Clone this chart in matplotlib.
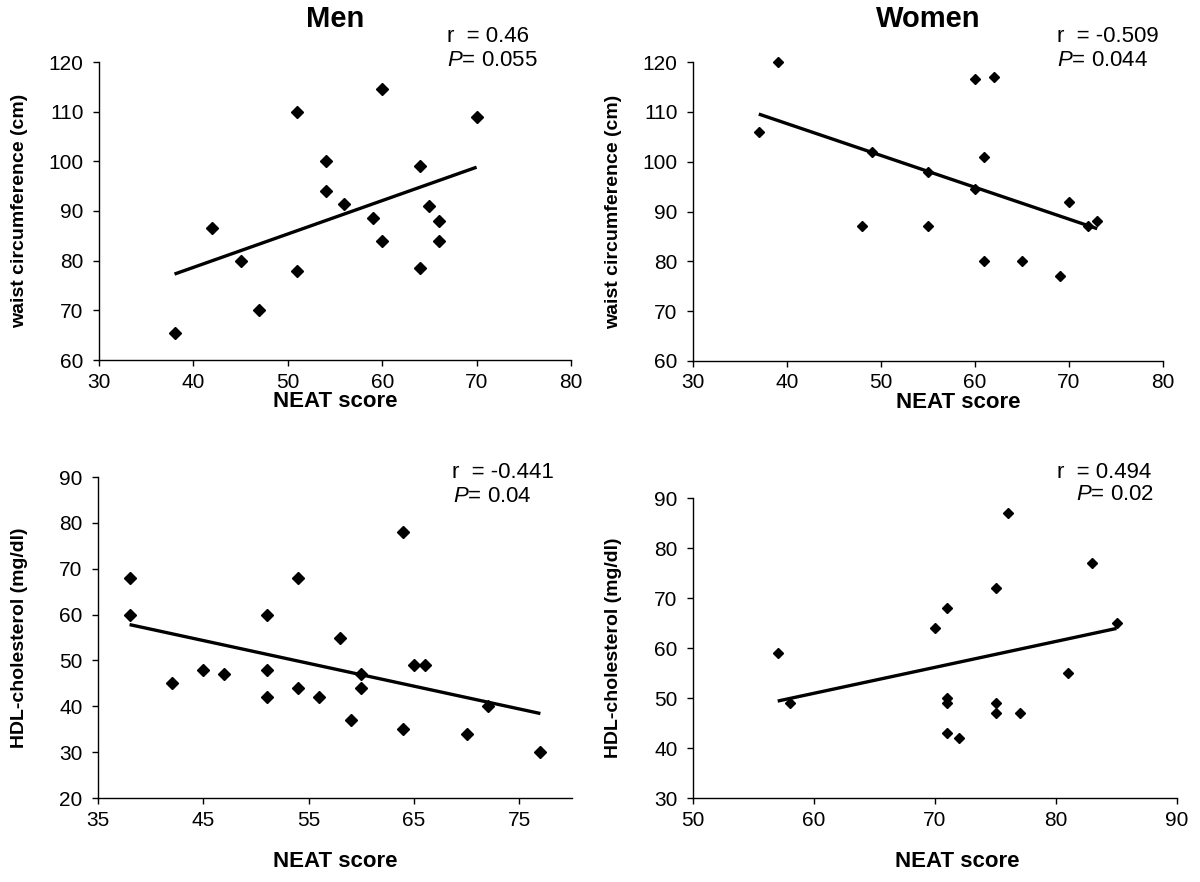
import matplotlib
matplotlib.use("Agg")
import matplotlib.pyplot as plt
import numpy as np

plt.rcParams['font.family'] = ['Liberation Sans', 'DejaVu Sans']
plt.rcParams['mathtext.fontset'] = 'custom'
plt.rcParams['mathtext.rm'] = 'Liberation Sans'
plt.rcParams['mathtext.it'] = 'Liberation Sans:italic'

# men, waist circumference
men_waist_x = [38, 42, 45, 47, 51, 51, 54, 54, 56, 59, 60, 60, 64, 64, 65, 66, 66, 70]
men_waist_y = [65.5, 86.5, 80, 70, 110, 78, 100, 94, 91.5, 88.5, 114.5, 84, 99, 78.5, 91, 88, 84, 109]

# women, waist circumference
women_waist_x = [39, 37, 49, 48, 55, 55, 60, 62, 61, 60, 61, 65, 69, 70, 72, 73]
women_waist_y = [120, 106, 102, 87, 98, 87, 116.5, 117, 101, 94.5, 80, 80, 77, 92, 87, 88]

# men, HDL
men_hdl_x = [38, 38, 42, 45, 47, 51, 51, 51, 54, 54, 56, 58, 59, 60, 60, 64, 64, 65, 66, 70, 72, 77]
men_hdl_y = [68, 60, 45, 48, 47, 60, 48, 42, 68, 44, 42, 55, 37, 47, 44, 78, 35, 49, 49, 34, 40, 30]

# women, HDL
women_hdl_x = [57, 58, 70, 71, 71, 71, 71, 72, 75, 75, 75, 76, 77, 81, 83, 85]
women_hdl_y = [59, 49, 64, 68, 50, 49, 43, 42, 72, 49, 47, 87, 47, 55, 77, 65]

W, H = 1200, 882
fig = plt.figure(figsize=(12, 8.82), dpi=100)


def px_axes(left, right, top, bottom):
    return fig.add_axes([left / W, 1 - bottom / H, (right - left) / W, (bottom - top) / H])


def style(ax, xlim, xticks, ylim, yticks, ylabel, ylab_x, xlab_x, xlab_y, ms, xs, ys):
    ax.plot(xs, ys, linestyle='none', marker='D', color='black', markersize=ms, clip_on=False)
    k, b = np.polyfit(xs, ys, 1)
    lx = np.array([min(xs), max(xs)])
    ax.plot(lx, k * lx + b, color='black', lw=2.4, solid_capstyle='butt')
    ax.set_xlim(xlim)
    ax.set_ylim(ylim)
    ax.set_xticks(xticks)
    ax.set_yticks(yticks)
    for s in ['top', 'right']:
        ax.spines[s].set_visible(False)
    for s in ['left', 'bottom']:
        ax.spines[s].set_linewidth(1.0)
    ax.tick_params(direction='out', length=4, width=1.0, labelsize=15)
    ax.tick_params(axis='x', pad=5)
    ax.tick_params(axis='y', pad=7)
    ax.set_ylabel(ylabel, fontsize=14, fontweight='bold')
    ax.yaxis.set_label_coords(ylab_x, 0.5)
    ax.set_xlabel('NEAT score', fontsize=16, fontweight='bold')
    ax.xaxis.set_label_coords(xlab_x, xlab_y)


ax1 = px_axes(99, 571, 62, 360)
style(ax1, (30, 80), range(30, 81, 10), (60, 120), range(60, 121, 10),
      'waist circumference (cm)', -0.150, 0.5, -0.104, 6.2, men_waist_x, men_waist_y)

ax2 = px_axes(693, 1163, 62, 361)
style(ax2, (30, 80), range(30, 81, 10), (60, 120), range(60, 121, 10),
      'waist circumference (cm)', -0.151, 0.564, -0.104, 5.0, women_waist_x, women_waist_y)

ax3 = px_axes(98, 572, 477, 798)
style(ax3, (35, 80), range(35, 76, 10), (20, 90), range(20, 91, 10),
      'HDL-cholesterol (mg/dl)', -0.148, 0.5, -0.165, 6.2, men_hdl_x, men_hdl_y)

ax4 = px_axes(693, 1177, 498, 798)
style(ax4, (50, 90), range(50, 91, 10), (30, 90), range(30, 91, 10),
      'HDL-cholesterol (mg/dl)', -0.147, 0.545, -0.177, 5.3, women_hdl_x, women_hdl_y)

fig.text(335 / W, 1 - 19 / H, 'Men', fontsize=21, fontweight='bold', ha='center', va='center')
fig.text(928 / W, 1 - 19 / H, 'Women', fontsize=21, fontweight='bold', ha='center', va='center')

notes = [
    (447, 36, 'r  = 0.46'), (447, 61, r'$\mathit{P}$= 0.055'),
    (1057, 36, 'r  = -0.509'), (1057, 61, r'$\mathit{P}$= 0.044'),
    (452, 473, 'r  = -0.441'), (453, 496, r'$\mathit{P}$= 0.04'),
    (1057, 473, 'r  = 0.494'), (1076, 494, r'$\mathit{P}$= 0.02'),
]
for x, y, t in notes:
    fig.text(x / W, 1 - y / H, t, fontsize=16, ha='left', va='center')

fig.savefig('out.png', dpi=100)
